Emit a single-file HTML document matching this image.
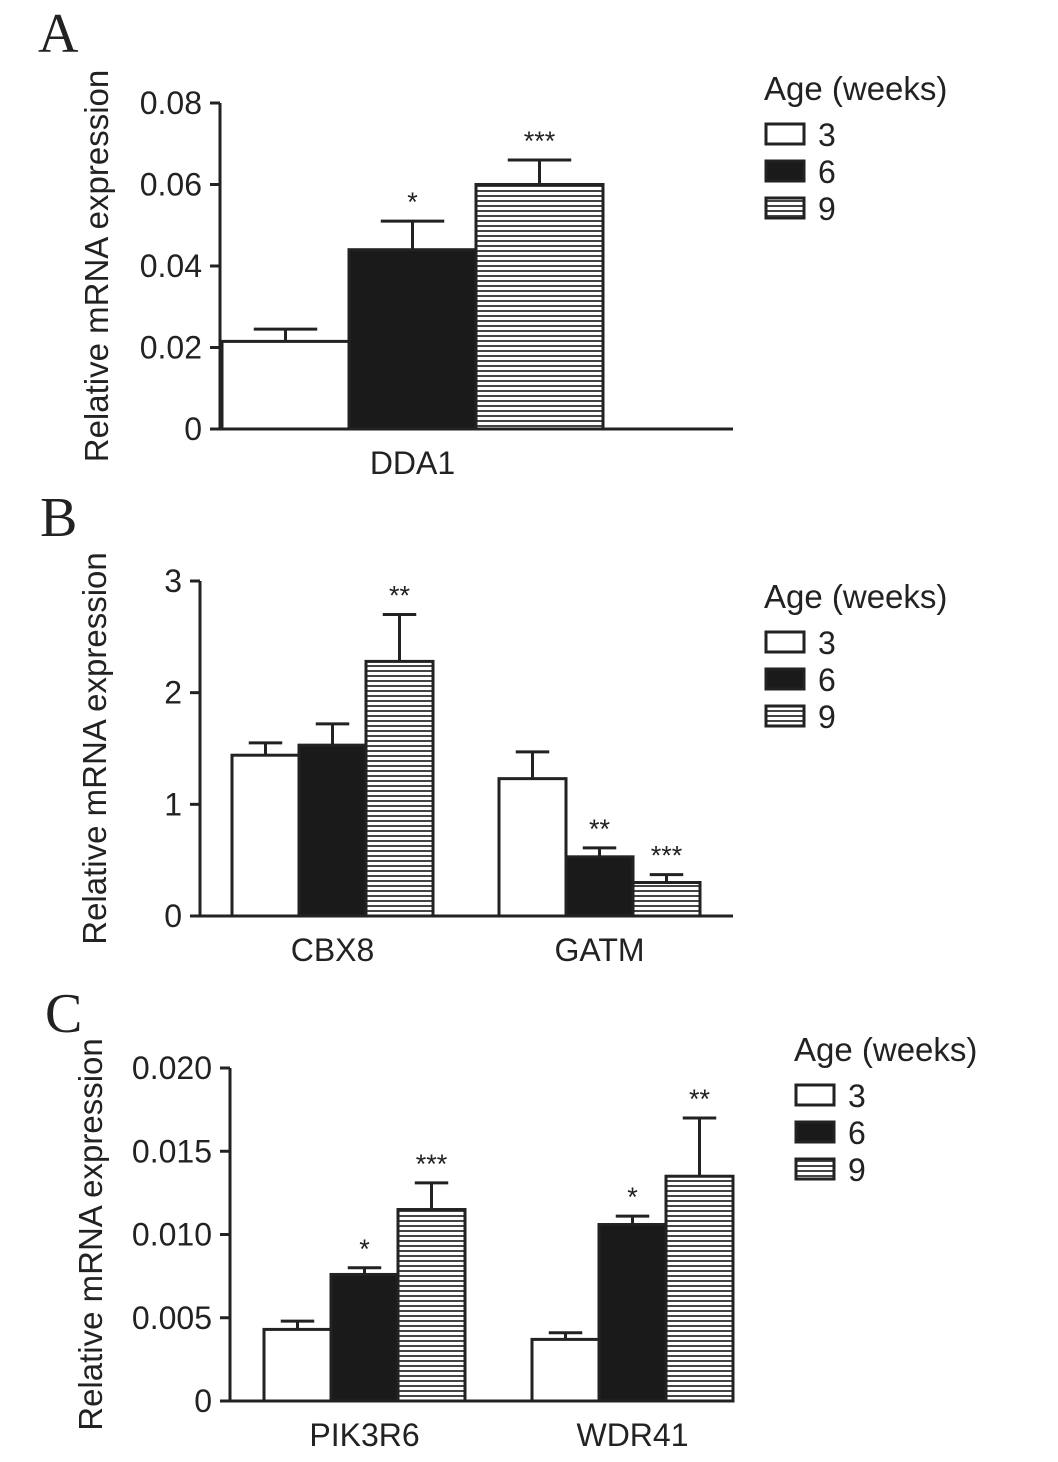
<!DOCTYPE html>
<html><head><meta charset="utf-8"><style>
body{margin:0;background:#fff;}
svg text{font-family:"Liberation Sans",sans-serif;fill:#222;}
</style></head><body>
<svg id="fig" width="1058" height="1457" viewBox="0 0 1058 1457" xmlns="http://www.w3.org/2000/svg">
<defs><pattern id="stripe" patternUnits="userSpaceOnUse" width="10" height="5"><rect width="10" height="5" fill="#fff"/><rect y="0" width="10" height="2" fill="#444"/></pattern></defs>
</svg>
<script>
// Panel A data
const aCats=["DDA1"];
const aVals=[[0.0215],[0.044],[0.060]];
const aErr=[[0.0245],[0.051],[0.066]];
const aSig=[[""],["*"],["***"]];
const aTicks=["0","0.02","0.04","0.06","0.08"];
// Panel B data
const bCats=["CBX8","GATM"];
const bVals=[[1.44,1.23],[1.53,0.53],[2.28,0.30]];
const bErr=[[1.55,1.47],[1.72,0.61],[2.70,0.37]];
const bSig=[["",""],["","**"],["**","***"]];
const bTicks=["0","1","2","3"];
// Panel C data
const cCats=["PIK3R6","WDR41"];
const cVals=[[0.0043,0.0037],[0.0076,0.0106],[0.0115,0.0135]];
const cErr=[[0.0048,0.0041],[0.0080,0.0111],[0.0131,0.0170]];
const cSig=[["",""],["*","*"],["***","**"]];
const cTicks=["0","0.005","0.010","0.015","0.020"];
const legendLabels=["3","6","9"];

const svg=document.getElementById('fig');
const NS='http://www.w3.org/2000/svg';
function mk(tag,attrs,parent){const e=document.createElementNS(NS,tag);for(const k in attrs)e.setAttribute(k,attrs[k]);(parent||svg).appendChild(e);return e;}
const fills=["#fff","#1a1a1a","url(#stripe)"];

function panel(o){
  const g=mk('g',{});
  
  
  const y=v=>o.y0-(v/o.ymax)*(o.y0-o.y1);
  const L=mk('text',{x:o.lx,y:o.ly,'font-size':56,style:'font-family:"Liberation Serif",serif'},g);L.textContent=o.id;
  
  const ax=mk('path',{d:`M${o.ax},${o.y1} V${o.y0} H${o.axEnd}`,stroke:'#222','stroke-width':3,fill:'none'},g);
  
  o.ticks.forEach((t,i)=>{const v=o.ymax*i/(o.ticks.length-1);const yy=y(v);
    mk('line',{x1:o.ax-10,x2:o.ax,y1:yy,y2:yy,stroke:'#222','stroke-width':3},g);
    const tx=mk('text',{x:o.ax-18,y:yy+11,'font-size':32,'text-anchor':'end'},g);tx.textContent=t;
    });
  const yt=mk('text',{x:0,y:0,'font-size':33,'text-anchor':'middle',transform:`translate(${o.ytx},${(o.y0+o.y1)/2}) rotate(-90)`},g);
  yt.textContent='Relative mRNA expression';
  o.cats.forEach((c,ci)=>{
    const gx=o.gx[ci];
    for(let s=0;s<3;s++){
      const x0=gx+s*o.bw,top=y(o.vals[s][ci]),et=y(o.err[s][ci]),cx=x0+o.bw/2;
      const el=mk('line',{x1:cx,x2:cx,y1:et,y2:top,stroke:'#222','stroke-width':3},g);
      
      mk('line',{x1:cx-o.bw/4,x2:cx+o.bw/4,y1:et,y2:et,stroke:'#222','stroke-width':3},g);
      const r=mk('rect',{x:x0,y:top,width:o.bw,height:o.y0-top,fill:fills[s],stroke:'#222','stroke-width':3},g);
      
      if(o.sig[s][ci]){const st=mk('text',{x:cx,y:et-10,'font-size':27,'text-anchor':'middle'},g);st.textContent=o.sig[s][ci];
        }
    }
    const xl=mk('text',{x:gx+1.5*o.bw,y:o.y0+45,'font-size':32,'text-anchor':'middle'},g);xl.textContent=c;
    
  });
  const lg=mk('g',{},g);
  const lt=mk('text',{x:o.legx,y:o.legy,'font-size':33},lg);lt.textContent='Age (weeks)';
  legendLabels.forEach((l,i)=>{const by=o.legy+24+i*37;
    const b=mk('rect',{x:o.legx+2,y:by,width:38,height:20,fill:fills[i],stroke:'#222','stroke-width':3},lg);
    
    const t=mk('text',{x:o.legx+54,y:by+22,'font-size':32},lg);t.textContent=l;
    });
}
panel({id:'A',lx:38,ly:52,ax:220,axEnd:733,y0:429,y1:103,ymax:0.08,ticks:aTicks,cats:aCats,vals:aVals,err:aErr,sig:aSig,gx:[222],bw:127,ytx:108,legx:764,legy:100});
panel({id:'B',lx:40,ly:536,ax:200,axEnd:733,y0:916,y1:581,ymax:3,ticks:bTicks,cats:bCats,vals:bVals,err:bErr,sig:bSig,gx:[232,499],bw:67,ytx:106,legx:764,legy:608});
panel({id:'C',lx:45,ly:1032,ax:230,axEnd:733,y0:1401,y1:1068,ymax:0.02,ticks:cTicks,cats:cCats,vals:cVals,err:cErr,sig:cSig,gx:[264,532],bw:67,ytx:102,legx:794,legy:1061});
</script>
</body></html>
